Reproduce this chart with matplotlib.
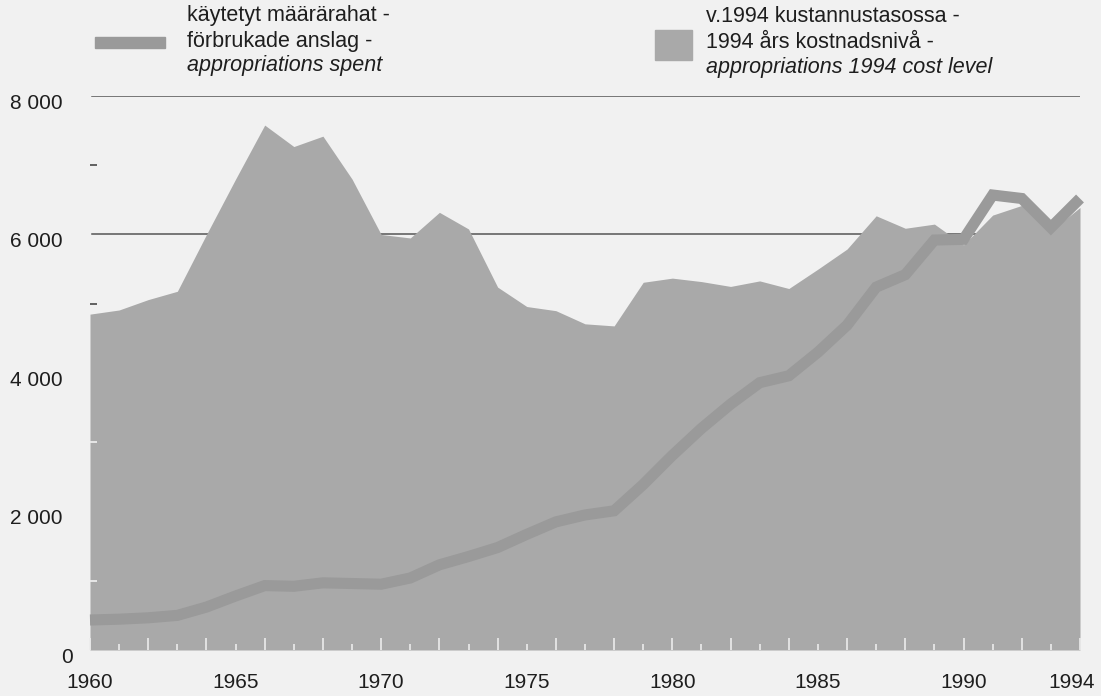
import matplotlib
matplotlib.use("Agg")
import matplotlib.pyplot as plt
from matplotlib.transforms import ScaledTranslation

years = list(range(1960, 1995))

# appropriations at 1994 cost level (area)
cost_level_1994 = [4850, 4910, 5060, 5180, 6000, 6800, 7580, 7270, 7420, 6800,
                   6000, 5950, 6320, 6080, 5240, 4960, 4900, 4710, 4680, 5310,
                   5370, 5320, 5250, 5330, 5220, 5500, 5790, 6270, 6090, 6150,
                   5850, 6280, 6420, 6050, 6390]

# appropriations spent (line)
spent = [433, 445, 465, 500, 620, 780, 930, 920, 970, 960,
         950, 1040, 1230, 1350, 1480, 1670, 1850, 1950, 2010, 2390,
         2810, 3200, 3550, 3860, 3960, 4300, 4690, 5240, 5420, 5920,
         5930, 6570, 6520, 6100, 6520]

x_tick_labels = [1960, 1965, 1970, 1975, 1980, 1985, 1990, 1994]
y_major = [0, 2000, 4000, 6000, 8000]
y_minor = [1000, 3000, 5000, 7000]

bg = "#f1f1f1"
area_color = "#a9a9a9"
line_color = "#9a9a9a"
grid_color = "#555555"
tick_light = "#ececec"
text_color = "#1e1e1e"

plt.rcParams["font.family"] = ["Liberation Sans", "DejaVu Sans"]

fig = plt.figure(figsize=(11.01, 6.96), dpi=100, facecolor=bg)
ax = fig.add_axes([90 / 1101, 46 / 696, 990 / 1101, 554 / 696])
ax.set_facecolor(bg)
ax.set_axisbelow(False)

for v in y_major[1:]:
    ax.axhline(v, xmin=0.002, color=grid_color, lw=1.1, zorder=1)

ax.fill_between(years, 0, cost_level_1994, color=area_color, lw=0, zorder=2)
ax.plot(years, spent, color=line_color, lw=8, solid_capstyle="butt",
        solid_joinstyle="miter", zorder=3, clip_on=False)

ax.set_xlim(1960, 1994)
ax.set_ylim(0, 8000)
for s in ax.spines.values():
    s.set_visible(False)

# x ticks: light, inside the area
ax.set_xticks(list(range(1960, 1995, 2)))
ax.set_xticks(list(range(1961, 1995, 2)), minor=True)
ax.tick_params(axis="x", which="major", direction="in", length=9, width=1.2,
               color=tick_light, pad=0, labelbottom=False)
ax.tick_params(axis="x", which="minor", direction="in", length=4, width=1.2,
               color=tick_light)
for yr in x_tick_labels:
    dx = -0.28 if yr == 1994 else 0
    ax.text(yr + dx, -470, str(yr), ha="center", va="center", fontsize=15,
            color=text_color)

# y ticks: minor dashes light inside the grey area, dark above it
inside = [v for v in y_minor if v < cost_level_1994[0]]
outside = [v for v in y_minor if v >= cost_level_1994[0]]
ax.set_yticks(y_major)
ax.set_yticklabels(["0", "2 000", "4 000", "6 000", "8 000"])
ax.set_yticks(inside, minor=True)
ax.tick_params(axis="y", which="major", length=0, pad=19.5, labelsize=15,
               labelcolor=text_color)
ax.tick_params(axis="y", which="minor", direction="in", length=5, width=1.3,
               color=tick_light)
sec = ax.secondary_yaxis("left")
sec.set_yticks(outside)
sec.tick_params(direction="in", length=5, width=1.3, color=grid_color,
                labelleft=False)
sec.spines["left"].set_visible(False)

for lab in ax.get_yticklabels():
    dx = 7.5 / 72 if lab.get_text() == "0" else 0
    lab.set_transform(lab.get_transform() +
                      ScaledTranslation(dx, -3.8 / 72, fig.dpi_scale_trans))

# legend, drawn by hand
def fx(px):
    return px / 1101

def fy(py):
    return 1 - py / 696

fig.patches.append(plt.Rectangle((fx(95), fy(48)), fx(70), 11 / 696,
                                 transform=fig.transFigure, color=line_color))
fig.patches.append(plt.Rectangle((fx(655), fy(60)), fx(37), 30 / 696,
                                 transform=fig.transFigure, color=area_color))

left_lines = ["käytetyt määrärahat -", "förbrukade anslag -", "appropriations spent"]
right_lines = ["v.1994 kustannustasossa -", "1994 års kostnadsnivå -",
               "appropriations 1994 cost level"]
for i, (a, b) in enumerate(zip(left_lines, right_lines)):
    style = "italic" if i == 2 else "normal"
    fig.text(fx(187), fy(16 + 25 * i), a, fontsize=15.5, style=style,
             va="center", ha="left", color=text_color)
    fig.text(fx(706), fy(17 + 25 * i), b, fontsize=15.5, style=style,
             va="center", ha="left", color=text_color)

fig.savefig("out.png", dpi=100, facecolor=bg)
